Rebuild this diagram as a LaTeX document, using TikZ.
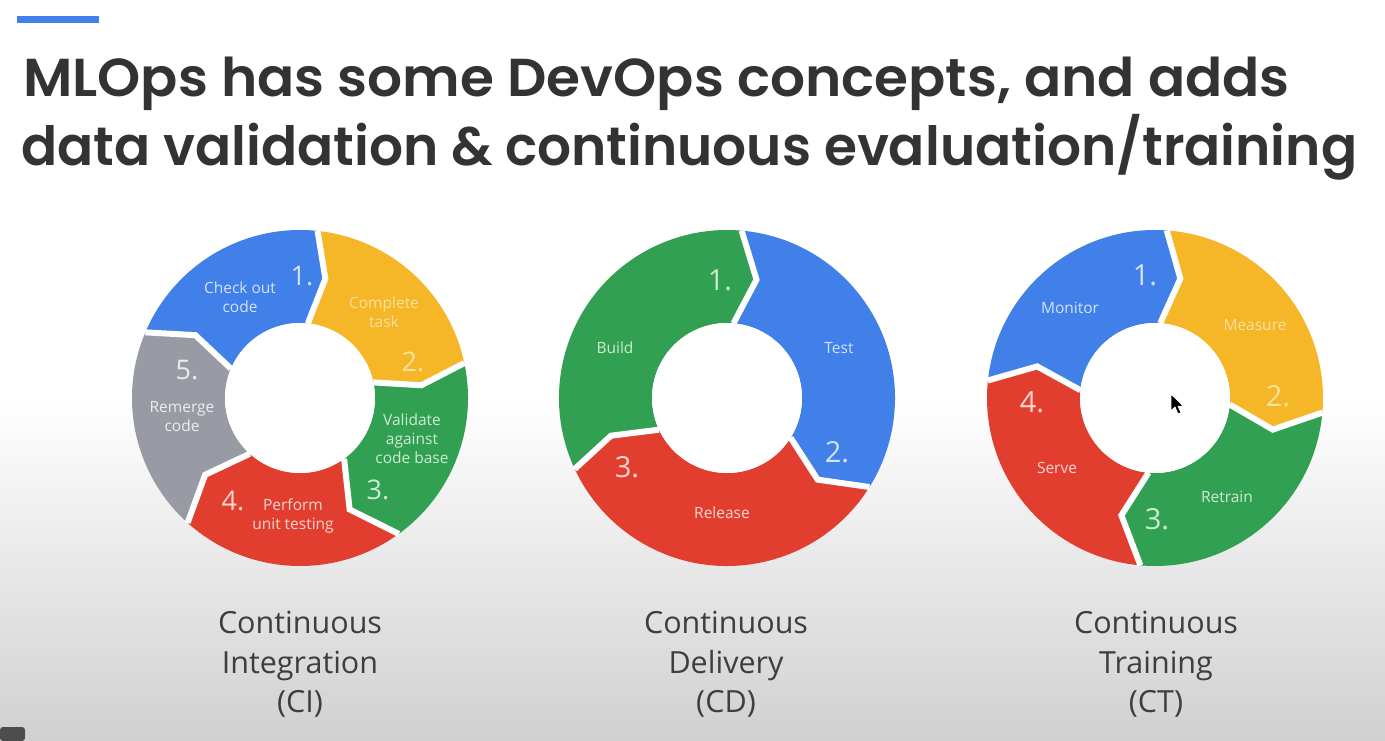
\documentclass[tikz,border=0pt]{standalone}
\usepackage{fontspec}
\usepackage{graphicx}
\setmainfont{Open Sans}
\newfontfamily\titlefont{Poppins SemiBold}

\definecolor{gblue}{RGB}{64,128,232}
\definecolor{gyellow}{RGB}{245,183,40}
\definecolor{ggreen}{RGB}{50,160,82}
\definecolor{gred}{RGB}{226,62,48}
\definecolor{ggray}{RGB}{152,155,163}
\definecolor{titletext}{RGB}{51,51,51}
\definecolor{captext}{RGB}{62,62,62}
\definecolor{bgbottom}{RGB}{208,208,208}
\definecolor{playerbox}{RGB}{77,77,77}
\definecolor{tblue}{RGB}{212,226,252}
\definecolor{tyellow}{RGB}{252,224,160}
\definecolor{tgreen}{RGB}{205,236,210}
\definecolor{tred}{RGB}{250,214,208}
\definecolor{tgray}{RGB}{236,236,240}

% ring radii (outer, middle for the chevron points, inner)
\def\Rout{168}
\def\Rmid{122}
\def\Rin{75}

% one arrow-shaped part of a ring, running clockwise
% #1 colour, #2 start angle, #3 its notch offset, #4 end angle, #5 its tip offset
\newcommand\ringpart[5]{%
  \fill[#1] (#2:\Rout) arc[start angle=#2, end angle=#4, radius=\Rout]
    -- (#4-#5:\Rmid) -- (#4:\Rin)
    arc[start angle=#4, end angle=#2, radius=\Rin]
    -- (#2-#3:\Rmid) -- cycle;}
% white gap between two neighbouring parts
\newcommand\ringgap[2]{%
  \draw[gapline] (#1:\Rout) -- (#1-#2:\Rmid) -- (#1:\Rin);}

\begin{document}
\begin{tikzpicture}[x=1pt, y=-1pt,
  gapline/.style={white, line width=6pt, line join=miter, line cap=butt},
  seg/.style={font=\fontsize{15.5}{19}\selectfont, align=center, inner sep=0pt},
  num/.style={font=\fontsize{27}{27}\selectfont, inner sep=0pt},
  bignum/.style={font=\fontsize{29}{29}\selectfont, inner sep=0pt},
  caption/.style={font=\fontsize{30.5}{40}\selectfont, text=captext, anchor=base, inner sep=0pt},
  headline/.style={anchor=base west, inner sep=0pt, text=titletext}]
\useasboundingbox (0,0) rectangle (1385,741);

% slide background
\fill[white] (0,0) rectangle (1385,741);
\shade[top color=white, bottom color=bgbottom] (0,400) rectangle (1385,741);
\fill[playerbox, rounded corners=3pt] (0,741) -- (0,727) -- (25,727) -- (25,741) -- cycle;

% accent bar and headline
\fill[gblue] (17,16) rectangle (99,23);
\node[headline] (head1) at (23,97)
  {\resizebox{1266pt}{39.5pt}{\smash{\titlefont MLOps has some DevOps concepts, and adds}\vphantom{\titlefont d}}};
\node[headline] (head2) at (21,165)
  {\resizebox{1336pt}{40pt}{\smash{\titlefont data validation \& continuous evaluation/training}\vphantom{\titlefont d}}};

% ---- Continuous Integration ring ----
\begin{scope}[shift={(300,398)}, yscale=-1]
  \ringpart{gblue}{157}{8}{84}{6}
  \ringpart{gyellow}{84}{6}{12}{6}
  \ringpart{ggreen}{12}{6}{-54}{12}
  \ringpart{gred}{-54}{12}{-132}{9}
  \ringpart{ggray}{228}{9}{157}{8}
  \ringgap{157}{8}
  \ringgap{84}{6}
  \ringgap{12}{6}
  \ringgap{-54}{12}
  \ringgap{-132}{9}
  \fill[white] (0,0) circle[radius=\Rin];
\end{scope}
\node[seg, text=tblue] (ci-check) at (240,297) {Check out\\code};
\node[num, text=tblue] (ci-n1) at (302,276) {1.};
\node[seg, text=tyellow] (ci-task) at (384,312) {Complete\\task};
\node[num, text=tyellow] (ci-n2) at (413,362) {2.};
\node[seg, text=tgreen] (ci-valid) at (412,439) {Validate\\against\\code base};
\node[num, text=tgreen] (ci-n3) at (378,490) {3.};
\node[num, text=tred] (ci-n4) at (233,501) {4.};
\node[seg, text=tred] (ci-unit) at (293,516) {Perform\\unit testing};
\node[num, text=tgray] (ci-n5) at (187,370) {5.};
\node[seg, text=tgray] (ci-remerge) at (182,417) {Remerge\\code};

% ---- Continuous Delivery ring ----
\begin{scope}[shift={(727,398)}, yscale=-1]
  \ringpart{ggreen}{205}{7}{85}{9}
  \ringpart{gblue}{85}{9}{-32}{10}
  \ringpart{gred}{-32}{10}{-155}{7}
  \ringgap{85}{9}
  \ringgap{-32}{10}
  \ringgap{-155}{7}
  \fill[white] (0,0) circle[radius=\Rin];
\end{scope}
\node[bignum, text=tgreen] (cd-n1) at (720,280) {1.};
\node[seg, text=tgreen] (cd-build) at (615,348) {Build};
\node[seg, text=tblue] (cd-test) at (839,348) {Test};
\node[bignum, text=tblue] (cd-n2) at (837,452) {2.};
\node[bignum, text=tred] (cd-n3) at (627,467) {3.};
\node[seg, text=tred] (cd-release) at (722,513) {Release};

% ---- Continuous Training ring ----
\begin{scope}[shift={(1155,398)}, yscale=-1]
  \ringpart{gblue}{174}{9}{86}{8}
  \ringpart{gyellow}{86}{8}{-5}{10}
  \ringpart{ggreen}{-5}{10}{-95}{11}
  \ringpart{gred}{-95}{11}{-186}{9}
  \ringgap{86}{8}
  \ringgap{-5}{10}
  \ringgap{-95}{11}
  \ringgap{174}{9}
  \fill[white] (0,0) circle[radius=\Rin];
\end{scope}
\node[bignum, text=tblue] (ct-n1) at (1145,275) {1.};
\node[seg, text=tblue] (ct-monitor) at (1070,308) {Monitor};
\node[seg, text=tyellow] (ct-measure) at (1255,325) {Measure};
\node[bignum, text=tyellow] (ct-n2) at (1278,396) {2.};
\node[bignum, text=tred] (ct-n4) at (1032,402) {4.};
\node[seg, text=tred] (ct-serve) at (1057,468) {Serve};
\node[seg, text=tgreen] (ct-retrain) at (1227,497) {Retrain};
\node[bignum, text=tgreen] (ct-n3) at (1157,519) {3.};

% mouse pointer
\filldraw[black, draw=white, line width=0.8pt, line join=round]
  (1171,394) -- ++(0,17) -- ++(4,-4) -- ++(3,7) -- ++(3,-1.3) -- ++(-3,-6.5) -- ++(5.5,0) -- cycle;

% captions
\node[caption] (ci-l1) at (300,633) {Continuous};
\node[caption] (ci-l2) at (300,673) {Integration};
\node[caption] (ci-l3) at (300,712) {(CI)};
\node[caption] (cd-l1) at (726,633) {Continuous};
\node[caption] (cd-l2) at (726,673) {Delivery};
\node[caption] (cd-l3) at (726,712) {(CD)};
\node[caption] (ct-l1) at (1156,633) {Continuous};
\node[caption] (ct-l2) at (1156,673) {Training};
\node[caption] (ct-l3) at (1156,712) {(CT)};
\end{tikzpicture}
\end{document}
